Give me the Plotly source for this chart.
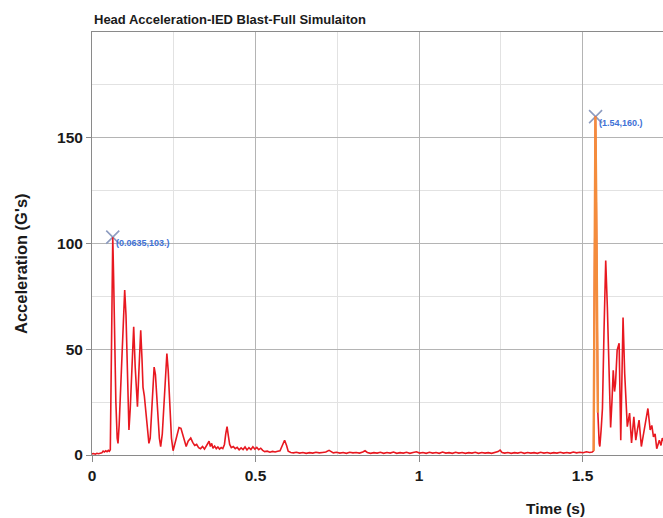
import plotly.graph_objects as go

title_text = "Head Acceleration-IED Blast-Full Simulaiton"
x_title = "Time (s)"
y_title = "Acceleration (G's)"
x_ticks = [0, 0.5, 1, 1.5]
x_tick_labels = ["0", "0.5", "1", "1.5"]
y_ticks = [0, 50, 100, 150]
y_tick_labels = ["0", "50", "100", "150"]

time_s = [
    0, 0.005, 0.01, 0.015, 0.02, 0.025, 0.03, 0.034, 0.038, 0.042, 0.046, 0.05, 0.053, 0.056,
    0.0585, 0.0615, 0.0635, 0.066, 0.069, 0.073, 0.077, 0.0795, 0.083, 0.088, 0.094, 0.100,
    0.104, 0.108, 0.111, 0.113, 0.117, 0.122, 0.1275, 0.132, 0.136, 0.139, 0.143, 0.149,
    0.153, 0.156, 0.160, 0.166, 0.170, 0.174, 0.178, 0.183, 0.190, 0.194, 0.197, 0.202,
    0.206, 0.210, 0.215, 0.222, 0.229, 0.233, 0.2377, 0.243, 0.248, 0.254, 0.260, 0.266,
    0.272, 0.278, 0.284, 0.288, 0.294, 0.302, 0.308, 0.314, 0.320, 0.326, 0.332, 0.338,
    0.344, 0.350, 0.354, 0.358, 0.362, 0.366, 0.370, 0.375, 0.380, 0.385, 0.390, 0.395,
    0.400, 0.405, 0.409, 0.413, 0.417, 0.421, 0.426, 0.432, 0.438, 0.444, 0.450, 0.456,
    0.462, 0.468, 0.474, 0.480, 0.486, 0.492, 0.498, 0.504, 0.510, 0.516, 0.522, 0.528,
    0.536, 0.544, 0.552, 0.560, 0.568, 0.575, 0.582, 0.589, 0.595, 0.600, 0.608, 0.616,
    0.625, 0.635, 0.645, 0.655, 0.665, 0.675, 0.685, 0.695, 0.705, 0.715, 0.725, 0.730,
    0.738, 0.748, 0.758, 0.768, 0.778, 0.788, 0.798, 0.808, 0.818, 0.828, 0.835, 0.842,
    0.852, 0.862, 0.872, 0.882, 0.892, 0.902, 0.912, 0.922, 0.932, 0.942, 0.952, 0.962,
    0.972, 0.982, 0.992, 1.002, 1.012, 1.022, 1.032, 1.042, 1.052, 1.062, 1.072, 1.082,
    1.092, 1.102, 1.112, 1.122, 1.132, 1.142, 1.152, 1.162, 1.172, 1.182, 1.192, 1.202,
    1.212, 1.222, 1.232, 1.242, 1.248, 1.254, 1.262, 1.272, 1.282, 1.292, 1.302, 1.312,
    1.322, 1.332, 1.342, 1.352, 1.362, 1.372, 1.382, 1.392, 1.402, 1.412, 1.422, 1.432,
    1.442, 1.452, 1.462, 1.472, 1.482, 1.492, 1.502, 1.512, 1.522, 1.530, 1.534, 1.537,
    1.5395, 1.542, 1.547, 1.551, 1.553, 1.557, 1.561, 1.566, 1.571, 1.576, 1.581, 1.586,
    1.590, 1.594, 1.598, 1.601, 1.606, 1.612, 1.617, 1.624, 1.629, 1.633, 1.637, 1.644,
    1.650, 1.657, 1.663, 1.668, 1.673, 1.680, 1.685, 1.690, 1.700, 1.707, 1.712, 1.717,
    1.722, 1.727, 1.735, 1.740, 1.744, 1.750,
]

accel_g = [
    0.5, 0.7, 0.4, 0.8, 0.6, 0.9, 1.0, 1.8, 1.4, 2.0, 1.6, 2.2, 1.8, 2.5,
    45, 90, 103, 85, 50, 25, 8, 5.5, 14, 35, 60, 78,
    66, 40, 20, 11.8, 22, 45, 60.6, 42, 30, 22.8, 38, 59,
    45, 32, 28, 18, 10, 5.5, 8, 22, 41.6, 38, 32, 18,
    8, 4, 10, 30, 48, 40, 24, 8, 2, 6, 10, 13,
    12.6, 9, 5, 4, 6.5, 8, 6, 4.5, 5, 3.5, 3, 4,
    2.8, 4.5, 5.5, 6.5, 4, 5.5, 3.2, 4.2, 3, 3.8, 2.8, 3.5,
    3, 5, 10, 13.4, 9, 5, 3.5, 4, 3, 3.6, 2.5, 3.4,
    2.6, 3.8, 2.4, 3.5, 2.6, 3.9, 2.8, 3.6, 2.5, 3.2, 2.2, 1.6,
    1.8, 1.3, 1.7, 1.4, 1.8, 2.0, 4.5, 7, 4.5, 1.8, 1.2, 1.0,
    1.3, 0.9, 1.2, 0.8, 1.1, 0.9, 1.3, 1.0, 1.2, 1.4, 2.2, 1.7,
    1.0, 1.3, 0.9, 1.2, 0.8, 1.3, 1.0, 1.2, 0.9, 1.4, 2.0, 1.2,
    0.8, 1.1, 0.9, 1.3, 0.8, 1.2, 0.9, 1.4, 0.8, 1.1, 0.9, 1.3,
    0.8, 1.2, 1.5, 0.9, 1.2, 0.8, 1.3, 0.9, 1.2, 0.8, 1.4, 0.9,
    1.1, 0.8, 1.3, 0.9, 1.2, 0.8, 1.1, 0.9, 1.3, 0.8, 1.2, 0.9,
    1.1, 0.8, 1.3, 1.6, 2.3, 1.2, 0.9, 1.2, 0.8, 1.1, 0.9, 1.3,
    0.8, 1.2, 0.9, 1.1, 0.8, 1.3, 0.9, 1.2, 0.8, 1.1, 0.9, 1.3,
    0.9, 1.2, 0.9, 1.4, 1.0, 1.3, 1.1, 1.5, 1.2, 1.4, 2, 120,
    160, 120, 20, 5.5, 4, 12, 22, 60, 92, 70, 41.7, 13,
    25, 40, 30, 34, 49.6, 52.8, 7, 65, 38.7, 24, 13.4, 19.8,
    5.7, 18, 7, 12, 16.5, 4, 9, 13.4, 22, 11.8, 14, 8.6,
    10, 3, 7, 4.5, 8, 6,
]

spike_time = [1.534, 1.537, 1.5395, 1.542, 1.547]
spike_accel = [2, 120, 160, 120, 20]

peak_time = [0.0635, 1.54]
peak_accel = [103, 160]
peak_labels = ["(0.0635,103.)", "(1.54,160.)"]

font_family = "Liberation Sans, Arial, sans-serif"

fig = go.Figure()

fig.add_trace(go.Scatter(
    x=peak_time, y=peak_accel, mode="markers",
    marker=dict(symbol="x-thin", size=13, line=dict(color="#8d9cc0", width=1.6)),
    showlegend=False, hoverinfo="skip",
))

fig.add_trace(go.Scatter(
    x=time_s, y=accel_g, mode="lines",
    line=dict(color="rgb(232,24,32)", width=1.6),
    showlegend=False,
))

fig.add_trace(go.Scatter(
    x=spike_time, y=spike_accel, mode="lines",
    line=dict(color="rgb(244,140,60)", width=2.4),
    showlegend=False,
))

for t, a, lab in zip(peak_time, peak_accel, peak_labels):
    fig.add_annotation(
        x=t, y=a, xref="x", yref="y", text=lab, showarrow=False,
        xanchor="left", yanchor="middle", xshift=1, yshift=-6,
        font=dict(family=font_family, size=9, color="#3f72d6", weight="bold"),
    )

fig.add_annotation(
    x=0, y=(455 - 19) / 423, xref="paper", yref="paper", text=title_text,
    showarrow=False, xanchor="left", yanchor="middle",
    font=dict(family=font_family, size=13, color="#1a1a1a", weight="bold"),
)
fig.add_annotation(
    x=(21 - 92) / 571, y=(455 - 264) / 423, xref="paper", yref="paper", text=y_title,
    showarrow=False, xanchor="center", yanchor="middle", textangle=-90,
    font=dict(family=font_family, size=16.5, color="#1a1a1a", weight="bold"),
)
fig.add_annotation(
    x=(555 - 92) / 571, y=(455 - 508) / 423, xref="paper", yref="paper", text=x_title,
    showarrow=False, xanchor="center", yanchor="middle",
    font=dict(family=font_family, size=15.5, color="#1a1a1a", weight="bold"),
)

fig.update_layout(
    width=663, height=518,
    margin=dict(l=92, r=0, t=32, b=63),
    paper_bgcolor="white", plot_bgcolor="white",
    showlegend=False,
)

fig.update_xaxes(
    range=[0, (663 - 92) / 327], tickmode="array", tickvals=x_ticks, ticktext=x_tick_labels,
    showgrid=True, gridcolor="#b4b4b4", gridwidth=1,
    minor=dict(dtick=0.25, tick0=0, showgrid=True, gridcolor="#e2e2e2", gridwidth=1),
    showline=True, mirror=True, linecolor="#8a8a8a", linewidth=1,
    ticks="outside", ticklen=6, tickcolor="#8a8a8a",
    tickfont=dict(family=font_family, size=15.5, color="#1a1a1a", weight="bold"),
    zeroline=False,
)
fig.update_yaxes(
    range=[0, 200], tickmode="array", tickvals=y_ticks, ticktext=y_tick_labels,
    showgrid=True, gridcolor="#b4b4b4", gridwidth=1,
    minor=dict(dtick=25, tick0=0, showgrid=True, gridcolor="#e2e2e2", gridwidth=1),
    showline=True, linecolor="#8a8a8a", linewidth=1,
    ticks="outside", ticklen=5, tickcolor="#8a8a8a",
    tickfont=dict(family=font_family, size=15.5, color="#1a1a1a", weight="bold"),
    zeroline=False,
)

fig.write_html("out.html")
